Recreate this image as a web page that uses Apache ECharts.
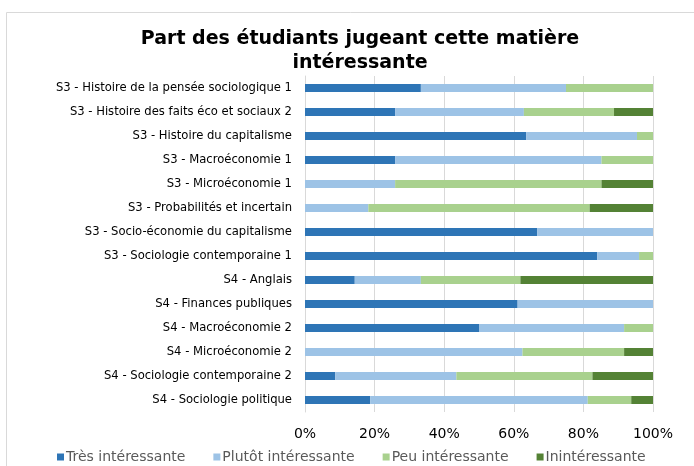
<!DOCTYPE html>
<html>
<head>
<meta charset="utf-8">
<script src="https://cdn.jsdelivr.net/npm/echarts@6/dist/echarts.min.js"></script>
<style>html,body{margin:0;padding:0;background:#fff}#c{width:694px;height:466px}</style>
</head>
<body>
<div id="c"></div>
<script>
var categories = [
  "S3 - Histoire de la pensée sociologique 1",
  "S3 - Histoire des faits éco et sociaux 2",
  "S3 - Histoire du capitalisme",
  "S3 - Macroéconomie 1",
  "S3 - Microéconomie 1",
  "S3 - Probabilités et incertain",
  "S3 - Socio-économie du capitalisme",
  "S3 - Sociologie contemporaine 1",
  "S4 - Anglais",
  "S4 - Finances publiques",
  "S4 - Macroéconomie 2",
  "S4 - Microéconomie 2",
  "S4 - Sociologie contemporaine 2",
  "S4 - Sociologie politique"
];
var tresInteressante = [33.3, 25.9, 63.6, 25.9, 0, 0, 66.7, 84, 14.3, 61.1, 50, 0, 8.7, 18.75];
var plutotInteressante = [41.7, 37.0, 31.8, 59.3, 25.9, 18.2, 33.3, 12, 19.0, 38.9, 41.7, 62.5, 34.8, 62.5];
var peuInteressante = [25, 25.9, 4.6, 14.8, 59.3, 63.6, 0, 4, 28.6, 0, 8.3, 29.2, 39.1, 12.5];
var inInteressante = [0, 11.2, 0, 0, 14.8, 18.2, 0, 0, 38.1, 0, 0, 8.3, 17.4, 6.25];
var seriesNames = ["Très intéressante", "Plutôt intéressante", "Peu intéressante", "Inintéressante"];
var tickLabels = ["0%", "20%", "40%", "60%", "80%", "100%"];

var colors = ["#2E75B6", "#9DC3E6", "#A9D18E", "#548235"];
var values = [tresInteressante, plutotInteressante, peuInteressante, inInteressante];
var chart = echarts.init(document.getElementById('c'));
var series = seriesNames.map(function (n, i) {
  return {
    name: n, type: 'bar', stack: 'total', barWidth: 8,
    itemStyle: { color: colors[i] },
    data: values[i]
  };
});
chart.setOption({
  animation: false,
  color: colors,
  graphic: [{
    type: 'rect', shape: { x: 6.5, y: 12.5, width: 720, height: 480 },
    style: { fill: 'none', stroke: '#d9d9d9', lineWidth: 1 }, silent: true
  }],
  title: {
    text: "Part des étudiants jugeant cette matière\nintéressante",
    left: 355, top: 22, textAlign: 'center',
    textStyle: { fontFamily: 'DejaVu Sans', fontWeight: 'bold', fontSize: 19, lineHeight: 24, color: '#000' }
  },
  legend: {
    top: 445, left: 52,
    itemWidth: 7, itemHeight: 7, itemGap: 28, icon: 'rect',
    textStyle: { fontFamily: 'DejaVu Sans', fontSize: 14, color: '#595959', padding: [0, 0, 0, -3] },
    data: seriesNames
  },
  grid: { left: 305, right: 41, top: 76, bottom: 54, containLabel: false },
  xAxis: {
    type: 'value', min: 0, max: 100, interval: 20,
    axisLine: { show: false }, axisTick: { show: false },
    splitLine: { lineStyle: { color: '#d9d9d9', width: 1 } },
    axisLabel: {
      margin: 15, fontFamily: 'DejaVu Sans', fontSize: 14, color: '#000',
      formatter: function (v) { return tickLabels[Math.round(v / 20)]; }
    }
  },
  yAxis: {
    type: 'category', data: categories, inverse: true,
    axisLine: { show: true, lineStyle: { color: '#d9d9d9' } }, axisTick: { show: false },
    axisLabel: { margin: 13, fontFamily: 'DejaVu Sans', fontSize: 11.6, color: '#000' }
  },
  series: series
});
</script>
</body>
</html>
